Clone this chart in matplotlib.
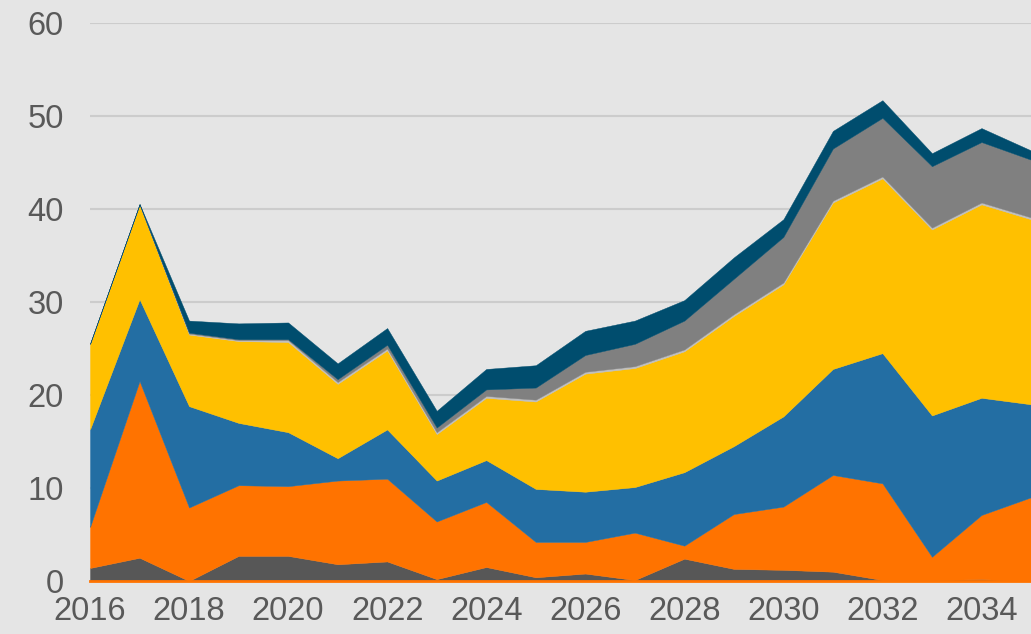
import numpy as np
import matplotlib.pyplot as plt

years = list(range(2016, 2036))

dark_gray = [1.4, 2.5, 0.0, 2.7, 2.7, 1.8, 2.1, 0.2, 1.5, 0.4, 0.8, 0.1, 2.4, 1.3, 1.2, 1.0, 0.1, 0.1, 0.2, 0.0]
orange = [4.4, 19.0, 7.9, 7.6, 7.5, 9.0, 8.9, 6.2, 7.0, 3.8, 3.4, 5.1, 1.4, 5.9, 6.8, 10.4, 10.4, 2.5, 6.9, 9.0]
blue = [10.5, 8.8, 10.9, 6.7, 5.8, 2.4, 5.3, 4.4, 4.5, 5.7, 5.4, 4.9, 7.9, 7.3, 9.7, 11.4, 14.0, 15.2, 12.6, 10.0]
yellow = [9.2, 10.2, 7.7, 8.8, 9.7, 8.0, 8.5, 5.0, 6.7, 9.4, 12.7, 12.8, 13.0, 14.0, 14.2, 17.9, 18.8, 20.0, 20.8, 19.9]
silver = [0.0, 0.0, 0.1, 0.1, 0.2, 0.2, 0.2, 0.2, 0.2, 0.2, 0.2, 0.2, 0.2, 0.2, 0.2, 0.2, 0.2, 0.2, 0.2, 0.2]
gray = [0.0, 0.0, 0.1, 0.1, 0.1, 0.3, 0.4, 0.5, 0.7, 1.3, 1.8, 2.4, 3.1, 3.8, 4.9, 5.6, 6.3, 6.6, 6.5, 6.2]
navy = [0.0, 0.05, 1.3, 1.7, 1.8, 1.7, 1.8, 1.8, 2.2, 2.4, 2.6, 2.5, 2.2, 2.3, 1.9, 1.9, 1.9, 1.4, 1.5, 1.0]

colors = ["#575757", "#FF7300", "#236EA3", "#FFC000", "#BFBFBF", "#808080", "#004D6E"]
bg = "#E5E5E5"
text_color = "#595959"

plt.rcParams["font.family"] = ["Liberation Sans", "DejaVu Sans"]

fig = plt.figure(figsize=(10.31, 6.34), dpi=100, facecolor=bg)
ax = fig.add_axes([0.0873, 0.0836, 0.9127, 0.8801], facecolor=bg)

ax.stackplot(years, dark_gray, orange, blue, yellow, silver, gray, navy,
             colors=colors, linewidth=0.3, edgecolor="face", zorder=2)
ax.axhline(0, color=colors[1], lw=2, zorder=3, clip_on=False)

ax.set_xlim(2016, 2035)
ax.set_ylim(0, 60)
ax.set_yticks(range(0, 61, 10))
ax.set_xticks(range(2016, 2035, 2))
ax.grid(axis="y", color="#CCCCCC", lw=1.5, zorder=1)
ax.tick_params(length=0, labelsize=23.5, labelcolor=text_color)
ax.tick_params(axis="y", pad=19)
ax.tick_params(axis="x", pad=11)
for s in ax.spines.values():
    s.set_visible(False)

fig.savefig("out.png", dpi=100, facecolor=bg)
